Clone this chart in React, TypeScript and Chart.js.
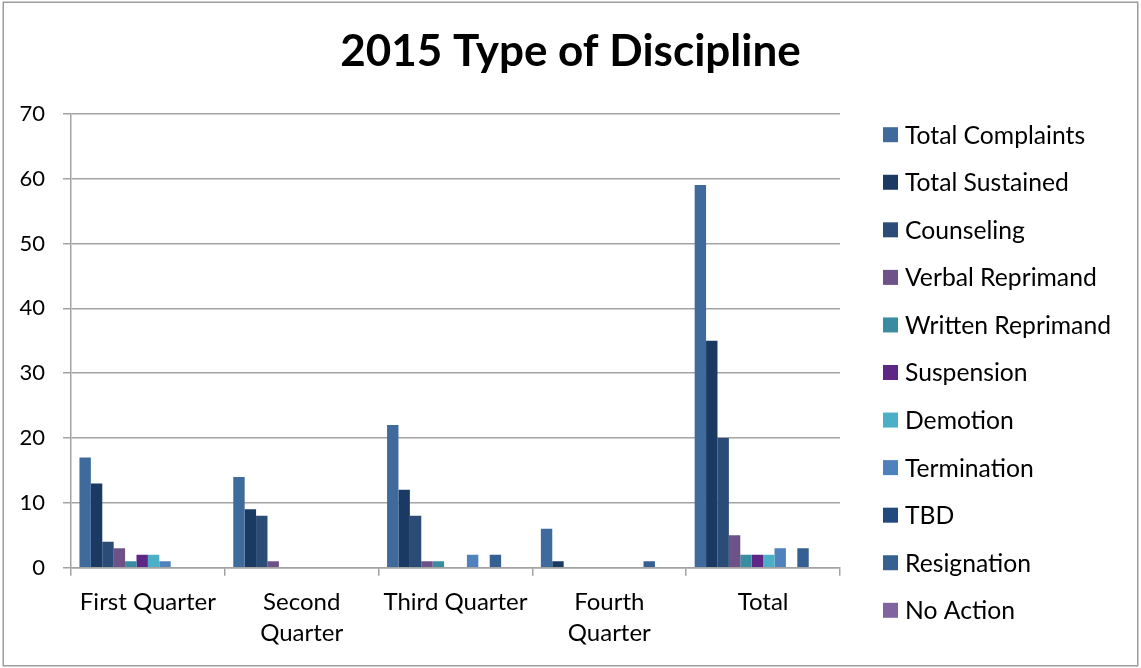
import { useEffect, useRef } from "react";
import { Chart, registerables } from "chart.js";

Chart.register(...registerables);

const WIDTH = 1141;
const HEIGHT = 668;

const chartTitle = "2015 Type of Discipline";

const categories: (string | string[])[] = [
  "First Quarter",
  ["Second", "Quarter"],
  "Third Quarter",
  ["Fourth", "Quarter"],
  "Total",
];

const seriesNames = [
  "Total Complaints",
  "Total Sustained",
  "Counseling",
  "Verbal Reprimand",
  "Written Reprimand",
  "Suspension",
  "Demotion",
  "Termination",
  "TBD",
  "Resignation",
  "No Action",
];

const seriesColors = [
  "#3F6A9C",
  "#1B3A63",
  "#2B4C76",
  "#6C5288",
  "#3A8DA1",
  "#5E2785",
  "#4BAFC8",
  "#4F81BD",
  "#224A7E",
  "#366092",
  "#8064A2",
];

const totalComplaints = [17, 14, 22, 6, 59];
const totalSustained = [13, 9, 12, 1, 35];
const counseling = [4, 8, 8, 0, 20];
const verbalReprimand = [3, 1, 1, 0, 5];
const writtenReprimand = [1, 0, 1, 0, 2];
const suspension = [2, 0, 0, 0, 2];
const demotion = [2, 0, 0, 0, 2];
const termination = [1, 0, 2, 0, 3];
const tbd = [0, 0, 0, 0, 0];
const resignation = [0, 0, 2, 1, 3];
const noAction = [0, 0, 0, 0, 0];
// trailing unlabeled series (all zero) that reserves the last bar slot in each group
const unlabeled = [0, 0, 0, 0, 0];

const seriesValues = [
  totalComplaints,
  totalSustained,
  counseling,
  verbalReprimand,
  writtenReprimand,
  suspension,
  demotion,
  termination,
  tbd,
  resignation,
  noAction,
];

const yMin = 0;
const yMax = 70;
const yStep = 10;

const FONT = "Lato, 'Open Sans', sans-serif";
const GRID = "#A3A3A3";

// white background, outer frame and the title centred on the whole canvas
const framePlugin = {
  id: "frame",
  beforeDraw(chart: Chart) {
    const { ctx } = chart;
    ctx.save();
    ctx.fillStyle = "#FFFFFF";
    ctx.fillRect(0, 0, chart.width, chart.height);
    ctx.restore();
  },
  afterDraw(chart: Chart) {
    const { ctx } = chart;
    ctx.save();
    ctx.strokeStyle = "#9C9C9C";
    ctx.lineWidth = 1.5;
    ctx.strokeRect(3.25, 2.25, chart.width - 6.5, chart.height - 4.5);
    ctx.fillStyle = "#000000";
    ctx.font = `bold 44px ${FONT}`;
    ctx.textAlign = "center";
    ctx.textBaseline = "middle";
    ctx.fillText(chartTitle, chart.width / 2, 52);
    ctx.restore();
  },
};

// legend column to the right of the plot area
const sideLegendPlugin = {
  id: "sideLegend",
  afterDraw(chart: Chart) {
    const { ctx } = chart;
    const boxX = chart.chartArea.right + 43;
    const textX = boxX + 22;
    const firstY = 134.7;
    const stepY = 47.56;
    ctx.save();
    ctx.font = `24.7px ${FONT}`;
    ctx.textBaseline = "middle";
    ctx.textAlign = "left";
    chart.data.datasets.forEach((ds, i) => {
      if (!ds.label) return;
      const cy = firstY + i * stepY;
      ctx.fillStyle = ds.backgroundColor as string;
      ctx.fillRect(boxX, cy - 7.5, 15, 15);
      ctx.fillStyle = "#000000";
      ctx.fillText(ds.label, textX, cy + 1);
    });
    ctx.restore();
  },
};

export default function App() {
  const canvasRef = useRef<HTMLCanvasElement | null>(null);

  useEffect(() => {
    document.body.style.margin = "0";
    const canvas = canvasRef.current;
    if (!canvas) return;

    const datasets = seriesValues.map((values, i) => ({
      label: seriesNames[i],
      data: values,
      backgroundColor: seriesColors[i],
      borderWidth: 0,
    }));
    datasets.push({
      label: "",
      data: unlabeled,
      backgroundColor: "rgba(0,0,0,0)",
      borderWidth: 0,
    });

    const chart = new Chart(canvas, {
      type: "bar",
      data: { labels: categories, datasets },
      options: {
        responsive: false,
        animation: false,
        devicePixelRatio: 1,
        layout: { padding: { left: 0, right: 301, top: 113.7, bottom: 0 } },
        datasets: {
          bar: { categoryPercentage: 0.89, barPercentage: 1.0 },
        },
        plugins: {
          legend: { display: false },
          tooltip: { enabled: false },
          title: { display: false },
        },
        scales: {
          x: {
            offset: true,
            grid: {
              offset: true,
              drawOnChartArea: false,
              drawTicks: true,
              tickLength: 8,
              color: GRID,
              lineWidth: 1.5,
            },
            border: { color: GRID, width: 1.5 },
            ticks: {
              color: "#000000",
              font: { family: FONT, size: 24, lineHeight: 1.29 },
              padding: 11,
              maxRotation: 0,
              autoSkip: false,
            },
            afterFit(scale: any) {
              scale.height = HEIGHT - 567.7;
            },
          },
          y: {
            min: yMin,
            max: yMax,
            ticks: {
              stepSize: yStep,
              color: "#000000",
              font: { family: FONT, size: 22 },
              padding: 18,
            },
            grid: {
              drawTicks: true,
              tickLength: 8,
              color: GRID,
              lineWidth: 1.5,
            },
            border: { color: GRID, width: 1.5 },
            afterFit(scale: any) {
              scale.width = 71;
            },
          },
        },
      },
      plugins: [framePlugin, sideLegendPlugin],
    });

    return () => chart.destroy();
  }, []);

  return (
    <div style={{ position: "absolute", left: 0, top: 0, width: WIDTH, height: HEIGHT }}>
      <canvas ref={canvasRef} width={WIDTH} height={HEIGHT} style={{ display: "block" }} />
    </div>
  );
}
